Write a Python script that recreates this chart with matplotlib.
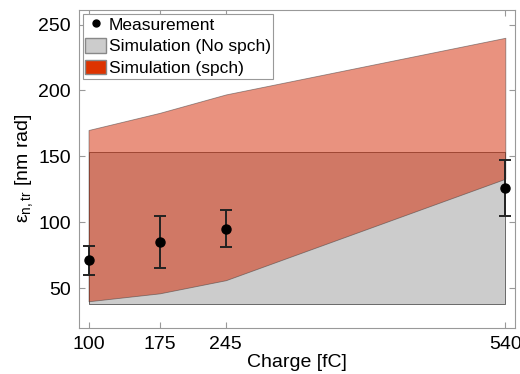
import numpy as np
import matplotlib
matplotlib.use("Agg")
import matplotlib.pyplot as plt
from matplotlib.patches import Patch
from matplotlib.lines import Line2D

plt.rcParams['font.family'] = ['Liberation Sans', 'DejaVu Sans']
plt.rcParams['mathtext.fontset'] = 'custom'
plt.rcParams['mathtext.rm'] = 'Liberation Sans'
plt.rcParams['mathtext.default'] = 'regular'

# charge points [fC]
charge = [100, 175, 245, 540]

# measurement with error bars
meas = [71, 85, 95, 126]
meas_lo = [60, 65, 81, 105]
meas_hi = [82, 105, 109, 147]

# simulation without space charge (band)
nospch_lo = [38, 38, 38, 38]
nospch_hi = [153, 153, 153, 153]

# simulation with space charge (band)
spch_lo = [40, 46, 56, 133]
spch_hi = [170, 183, 197, 240]

fig = plt.figure(figsize=(5.2, 3.74), dpi=100)
ax = fig.add_axes([0.152, 0.124, 0.838, 0.849])

ax.fill_between(charge, nospch_lo, nospch_hi, facecolor='#cccccc',
                edgecolor='#555555', linewidth=0.6)
ax.fill_between(charge, spch_lo, spch_hi, facecolor='#d52600', alpha=0.5,
                edgecolor='#333333', linewidth=0.6)

m = np.array(meas)
yerr = [m - np.array(meas_lo), np.array(meas_hi) - m]
ax.errorbar(charge, meas, yerr=yerr, fmt='o', color='black', ecolor='#222222',
            markersize=6.5, elinewidth=1.4, capsize=4, capthick=1.4)

ax.set_xlim(90, 550)
ax.set_ylim(20, 261)
ax.set_xticks(charge)
ax.set_yticks([50, 100, 150, 200, 250])
ax.tick_params(direction='in', top=True, right=True, length=4,
               color='#999999', labelsize=14, pad=6)
for s in ax.spines.values():
    s.set_color('#999999')

ax.set_xlabel('Charge [fC]', fontsize=14, labelpad=1)
ax.set_ylabel('ε$_{n,tr}$ [nm rad]', fontsize=14, labelpad=2)

handles = [
    Line2D([], [], marker='o', color='black', linestyle='none', markersize=5),
    Patch(facecolor='#cccccc', edgecolor='#888888'),
    Patch(facecolor='#dd3300', edgecolor='#888888'),
]
labels = ['Measurement', 'Simulation (No spch)', 'Simulation (spch)']
leg = ax.legend(handles, labels, loc='upper left', fontsize=12.5, fancybox=False,
                framealpha=1, edgecolor='#999999', borderpad=0.15,
                labelspacing=0.3, handlelength=1.2, handleheight=0.95,
                handletextpad=0.15, borderaxespad=0.2)
leg.get_frame().set_linewidth(0.8)

fig.savefig('out.png', dpi=100)
